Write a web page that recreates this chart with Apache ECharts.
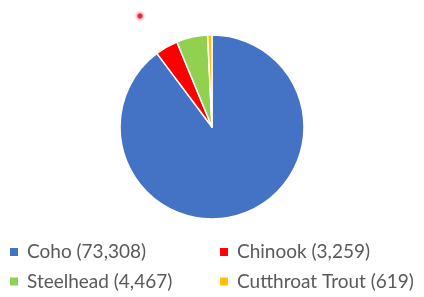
<!DOCTYPE html>
<html>
<head>
<meta charset="utf-8">
<script src="https://cdn.jsdelivr.net/npm/echarts@6/dist/echarts.min.js"></script>
<style>
  html, body { margin: 0; padding: 0; background: #fff; }
  #chart { width: 424px; height: 297px; }
</style>
</head>
<body>
<div id="chart"></div>
<script>
const species = ['Coho', 'Chinook', 'Steelhead', 'Cutthroat Trout'];
const counts = [73308, 3259, 4467, 619];
const colors = ['#4472C4', '#FF0000', '#92D050', '#FFC000'];

const fmt = (n) => n.toLocaleString('en-US');
const labelOf = (name) => name + ' (' + fmt(counts[species.indexOf(name)]) + ')';

// legend slot for each species: [left, top]
const legendPos = [[10, 242.5], [220, 242.5], [10, 272], [220, 272]];

const chart = echarts.init(document.getElementById('chart'));

const option = {
    backgroundColor: '#fff',
    animation: false,
    color: colors,
    legend: species.map((name, i) => ({
        left: legendPos[i][0],
        top: legendPos[i][1],
        padding: 0,
        data: [name],
        itemWidth: 8,
        itemHeight: 8,
        itemGap: 0,
        icon: 'rect',
        itemStyle: { borderWidth: 0 },
        selectedMode: false,
        formatter: labelOf,
        textStyle: {
            color: '#595959',
            fontSize: 19,
            fontFamily: 'Lato',
            padding: [0, 0, 0, 4]
        }
    })),
    graphic: [{
        // pointer highlight visible in the screenshot
        type: 'circle',
        shape: { cx: 140, cy: 16, r: 6 },
        style: {
            fill: {
                type: 'radial', x: 0.5, y: 0.5, r: 0.5,
                colorStops: [
                    { offset: 0, color: '#e0303a' },
                    { offset: 0.35, color: '#e0303a' },
                    { offset: 0.5, color: '#f6b6ba' },
                    { offset: 1, color: 'rgba(255,220,222,0)' }
                ]
            }
        }
    }],
    series: [{
        type: 'pie',
        center: [212, 127],
        radius: 92,
        startAngle: 90,
        clockwise: true,
        label: { show: false },
        labelLine: { show: false },
        emphasis: { disabled: true },
        itemStyle: { borderColor: '#fff', borderWidth: 1.5 },
        data: species.map((name, i) => ({ name: name, value: counts[i] }))
    }]
};

chart.setOption(option);
</script>
</body>
</html>
